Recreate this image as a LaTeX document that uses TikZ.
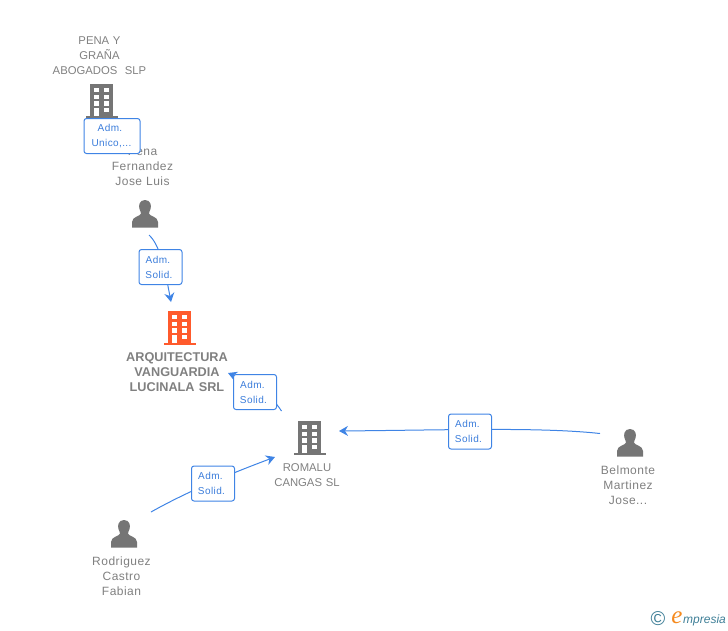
\documentclass[tikz,border=0pt]{standalone}
\usepackage{fontspec}
\setmainfont{Liberation Sans}
\newfontfamily\logoserif{Liberation Serif}
\usetikzlibrary{arrows.meta,backgrounds}
\definecolor{lblue}{HTML}{3F84E5}
\definecolor{ltext}{HTML}{3B7DDB}
\definecolor{gtext}{HTML}{808080}
\definecolor{icon}{HTML}{757575}
\definecolor{orangeicon}{HTML}{FF5A2C}
\definecolor{teal}{HTML}{3F7F97}
\definecolor{eorange}{HTML}{F58A1F}
\tikzset{
  x=1pt,y=-1pt,
  caption/.style={font=\fontsize{12}{15}\selectfont\addfontfeature{LetterSpace=4},text=gtext,align=center,inner sep=0pt,text width=120pt},
  captioncaps/.style={caption,font=\fontsize{11.3}{15}\selectfont},
  captionb/.style={caption,font=\fontsize{12.7}{15}\selectfont\bfseries},
  role/.style={draw=lblue,line width=1pt,rounded corners=2.5pt,fill=white,font=\fontsize{10}{15}\selectfont\addfontfeature{LetterSpace=4},text=ltext,align=center,inner sep=0pt,minimum height=35pt},
  link/.style={draw=lblue,line width=1pt},
  tip/.style={-{Stealth[length=9pt,width=10pt,inset=3pt]}},
  pics/building/.style={code={
    \fill[#1] (-11.5,-17) rectangle (11.5,16);
    \fill[#1] (-16,15.3) rectangle (16,17);
    \foreach \r/\h in {-13/-8.7,-6.3/-2,0.3/4.7}{
      \fill[white] (-7.2,\r) rectangle (-2.2,\h);
      \fill[white] (2.2,\r) rectangle (7.2,\h);}
    \fill[white] (2.2,7) rectangle (7.2,11.3);
    \fill[white] (-7.2,7) rectangle (-2.2,15.3);
  }},
  pics/person/.style={code={
    \fill[icon] (0,-14) .. controls (-6,-14) and (-6.5,-8) .. (-5.5,-5) .. controls (-5,-3) and (-4,-2) .. (-4,-0.5)
      .. controls (-4,2) and (-13,2.5) .. (-13,8) -- (-13,13.5) -- (13,13.5) -- (13,8)
      .. controls (13,2.5) and (4,2) .. (4,-0.5) .. controls (4,-2) and (5,-3) .. (5.5,-5)
      .. controls (6.5,-8) and (6,-14) .. (0,-14) -- cycle;
  }},
}
\begin{document}
\begin{tikzpicture}
\useasboundingbox (0,0) rectangle (728,630);
% icons
\pic at (101.5,101) {building=icon};
\pic at (145,214) {person};
\pic at (179.5,328) {building=orangeicon};
\pic at (309.5,438) {building=icon};
\pic at (630,443) {person};
\pic at (124,534) {person};
% captions
\node[captioncaps] (pena) at (99.5,55.5) {PENA Y\\GRAÑA\\ABOGADOS\ \ SLP};
\node[caption] (fernandez) at (142.5,166) {Pena\\Fernandez\\Jose Luis};
\node[captionb] (arq) at (177,372) {ARQUITECTURA\\VANGUARDIA\\LUCINALA SRL};
\node[captioncaps] (romalu) at (307,475) {ROMALU\\CANGAS SL};
\node[caption] (belmonte) at (628,485) {Belmonte\\Martinez\\Jose...};
\node[caption] (rodriguez) at (121.5,576) {Rodriguez\\Castro\\Fabian};
% role labels
\node[role,minimum width=56pt] (r0) at (112,136) {Adm.\hspace*{4pt}\\Unico,...\hspace*{1pt}};
\node[role,minimum width=43pt] (r1) at (160.5,267) {Adm.\hspace*{5pt}\\Solid.\hspace*{3pt}};
\node[role,minimum width=43pt] (r2) at (255,392) {Adm.\hspace*{5pt}\\Solid.\hspace*{3pt}};
\node[role,minimum width=43pt] (r3) at (213,483.5) {Adm.\hspace*{5pt}\\Solid.\hspace*{3pt}};
\node[role,minimum width=43pt] (r4) at (470,431.5) {Adm.\hspace*{5pt}\\Solid.\hspace*{3pt}};
% connector ends
\coordinate (a1) at (149,235);
\coordinate (b1) at (171,302);
\coordinate (a2) at (281.5,411);
\coordinate (b2) at (228,373);
\coordinate (a3) at (151,512);
\coordinate (b3) at (275,457);
\coordinate (a4) at (600,433.5);
\coordinate (b4) at (339,431);
\begin{scope}[on background layer]
\draw[link,tip] (a1) .. controls (160,245) and (165,270) .. (b1);
\draw[link,tip] (a2) .. controls (268,390) and (245,380) .. (b2);
\draw[link,tip] (a3) .. controls (190,490) and (235,472) .. (b3);
\draw[link,tip] (a4) .. controls (540,427) and (450,430) .. (b4);
\end{scope}
% logo
\node[inner sep=0pt,text=teal,font=\fontsize{20}{20}\selectfont] (copy) at (658,619) {©};
\node[inner sep=0pt,text=eorange,font=\logoserif\fontsize{25}{25}\selectfont\itshape] (elogo) at (677,618) {e};
\node[inner sep=0pt,anchor=west,text=teal,font=\fontsize{12}{12}\selectfont\itshape] (mlogo) at (683,620) {mpresia};
\end{tikzpicture}
\end{document}
